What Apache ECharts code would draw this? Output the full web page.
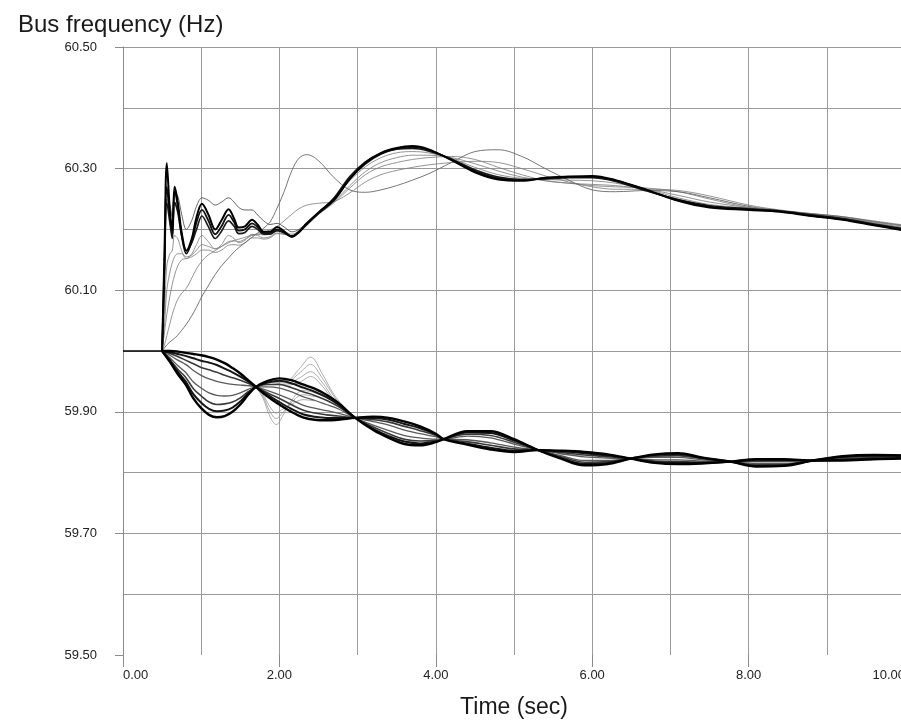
<!DOCTYPE html>
<html>
<head>
<meta charset="utf-8">
<script src="https://cdn.jsdelivr.net/npm/echarts@6/dist/echarts.min.js"></script>
<style>
html,body{margin:0;padding:0;background:#fff;}
#c{width:901px;height:724px;}
</style>
</head>
<body>
<div id="c"></div>
<script>
// ---------- DATA ----------
const xTickLabels = ['0.00','2.00','4.00','6.00','8.00','10.00'];
const yTickLabels = ['59.50','59.70','59.90','60.10','60.30','60.50'];

// before the disturbance
const preTimes = [0, 0.5];
const preValues = [60.000, 60.000];

// upper group (accelerating buses)
const upperTimes = [0.5, 0.53, 0.56, 0.6, 0.63, 0.66, 0.7, 0.75, 0.81, 0.88, 0.94, 1.01, 1.09, 1.18, 1.26, 1.35, 1.42, 1.48, 1.56, 1.65, 1.72, 1.8, 1.88, 1.97, 2.06, 2.16, 2.25, 2.35, 2.5, 2.7, 2.9, 3.1, 3.3, 3.5, 3.7, 3.9, 4.2, 4.5, 4.8, 5.1, 5.4, 5.7, 6.0, 6.3, 6.7, 7.1, 7.5, 8.0, 8.4, 8.8, 9.2, 9.6, 10.0];
const upper1 = [60.000, 60.160, 60.309, 60.230, 60.200, 60.270, 60.245, 60.195, 60.165, 60.185, 60.220, 60.242, 60.225, 60.200, 60.215, 60.233, 60.218, 60.203, 60.205, 60.216, 60.208, 60.196, 60.196, 60.204, 60.197, 60.188, 60.196, 60.210, 60.228, 60.250, 60.283, 60.310, 60.326, 60.334, 60.337, 60.332, 60.314, 60.294, 60.282, 60.280, 60.285, 60.287, 60.288, 60.281, 60.265, 60.247, 60.236, 60.232, 60.229, 60.222, 60.216, 60.207, 60.198];
const upper2 = [60.000, 60.140, 60.270, 60.220, 60.190, 60.262, 60.238, 60.190, 60.160, 60.180, 60.212, 60.232, 60.215, 60.192, 60.205, 60.224, 60.212, 60.198, 60.200, 60.210, 60.204, 60.194, 60.194, 60.200, 60.195, 60.188, 60.195, 60.208, 60.226, 60.248, 60.283, 60.308, 60.324, 60.333, 60.335, 60.331, 60.315, 60.296, 60.284, 60.281, 60.284, 60.286, 60.286, 60.280, 60.264, 60.248, 60.238, 60.233, 60.230, 60.223, 60.217, 60.208, 60.200];
const upper3 = [60.000, 60.120, 60.245, 60.210, 60.185, 60.245, 60.228, 60.190, 60.165, 60.178, 60.200, 60.222, 60.205, 60.185, 60.197, 60.214, 60.205, 60.193, 60.195, 60.205, 60.200, 60.192, 60.192, 60.198, 60.194, 60.189, 60.196, 60.209, 60.227, 60.252, 60.287, 60.311, 60.325, 60.332, 60.333, 60.329, 60.316, 60.298, 60.286, 60.282, 60.283, 60.285, 60.285, 60.279, 60.263, 60.249, 60.239, 60.234, 60.230, 60.224, 60.218, 60.209, 60.201];
const upperHigh = [60.000, 60.130, 60.250, 60.240, 60.220, 60.260, 60.255, 60.225, 60.200, 60.215, 60.238, 60.252, 60.248, 60.240, 60.245, 60.252, 60.245, 60.236, 60.232, 60.232, 60.224, 60.214, 60.208, 60.210, 60.204, 60.196, 60.200, 60.211, 60.229, 60.251, 60.284, 60.309, 60.325, 60.334, 60.336, 60.331, 60.314, 60.295, 60.283, 60.281, 60.285, 60.287, 60.287, 60.281, 60.265, 60.247, 60.237, 60.232, 60.229, 60.222, 60.216, 60.207, 60.199];
const upperLow1 = [60.000, 60.060, 60.140, 60.160, 60.165, 60.190, 60.185, 60.165, 60.152, 60.160, 60.175, 60.190, 60.180, 60.168, 60.175, 60.190, 60.185, 60.178, 60.182, 60.192, 60.190, 60.186, 60.188, 60.194, 60.192, 60.190, 60.198, 60.210, 60.225, 60.244, 60.268, 60.290, 60.303, 60.310, 60.315, 60.318, 60.320, 60.315, 60.302, 60.290, 60.280, 60.276, 60.272, 60.270, 60.268, 60.262, 60.250, 60.236, 60.230, 60.225, 60.220, 60.212, 60.205];
const upperLow2 = [60.000, 60.040, 60.100, 60.130, 60.145, 60.155, 60.160, 60.160, 60.155, 60.158, 60.166, 60.175, 60.172, 60.168, 60.172, 60.180, 60.181, 60.180, 60.184, 60.190, 60.192, 60.195, 60.199, 60.205, 60.214, 60.225, 60.234, 60.240, 60.243, 60.246, 60.260, 60.278, 60.290, 60.297, 60.302, 60.306, 60.310, 60.312, 60.310, 60.300, 60.288, 60.278, 60.270, 60.266, 60.266, 60.264, 60.255, 60.240, 60.232, 60.226, 60.221, 60.214, 60.207];
const upperSlow = [60.000, 60.005, 60.010, 60.015, 60.018, 60.021, 60.026, 60.034, 60.044, 60.058, 60.072, 60.090, 60.107, 60.126, 60.140, 60.153, 60.163, 60.170, 60.178, 60.187, 60.194, 60.202, 60.212, 60.235, 60.262, 60.297, 60.317, 60.323, 60.313, 60.285, 60.265, 60.261, 60.265, 60.272, 60.281, 60.291, 60.310, 60.328, 60.331, 60.320, 60.300, 60.281, 60.265, 60.262, 60.264, 60.262, 60.252, 60.238, 60.231, 60.226, 60.221, 60.213, 60.206];
const upperRise1 = [60.000, 60.030, 60.060, 60.090, 60.110, 60.125, 60.140, 60.150, 60.152, 60.155, 60.160, 60.166, 60.166, 60.162, 60.166, 60.174, 60.175, 60.174, 60.178, 60.186, 60.186, 60.184, 60.186, 60.193, 60.192, 60.189, 60.197, 60.210, 60.227, 60.249, 60.280, 60.303, 60.318, 60.326, 60.328, 60.326, 60.317, 60.302, 60.290, 60.284, 60.282, 60.281, 60.280, 60.276, 60.266, 60.252, 60.241, 60.235, 60.231, 60.224, 60.218, 60.210, 60.202];
const upperRise2 = [60.000, 60.010, 60.025, 60.045, 60.060, 60.072, 60.085, 60.095, 60.103, 60.120, 60.135, 60.148, 60.158, 60.165, 60.172, 60.178, 60.182, 60.184, 60.187, 60.191, 60.192, 60.191, 60.192, 60.197, 60.196, 60.192, 60.198, 60.210, 60.226, 60.246, 60.272, 60.295, 60.310, 60.318, 60.322, 60.322, 60.318, 60.308, 60.296, 60.286, 60.280, 60.276, 60.274, 60.272, 60.266, 60.256, 60.245, 60.236, 60.231, 60.225, 60.219, 60.211, 60.203];

// lower group (decelerating buses)
const lowerTimes = [0.5, 0.6, 0.7, 0.8, 0.9, 1.0, 1.1, 1.2, 1.3, 1.4, 1.5, 1.6, 1.7, 1.85, 2.0, 2.15, 2.3, 2.45, 2.6, 2.75, 2.97, 3.2, 3.4, 3.6, 3.8, 4.0, 4.1, 4.4, 4.7, 5.0, 5.31, 5.6, 5.9, 6.2, 6.49, 6.8, 7.1, 7.4, 7.77, 8.1, 8.45, 8.83, 9.2, 9.6, 10.0];
const lower1 = [60.000, 60.000, 59.999, 59.997, 59.995, 59.993, 59.990, 59.986, 59.980, 59.972, 59.963, 59.952, 59.941, 59.925, 59.912, 59.900, 59.891, 59.887, 59.886, 59.887, 59.890, 59.892, 59.890, 59.884, 59.876, 59.864, 59.855, 59.846, 59.838, 59.834, 59.837, 59.836, 59.834, 59.830, 59.823, 59.816, 59.814, 59.815, 59.818, 59.822, 59.822, 59.820, 59.820, 59.822, 59.823];
const lower2 = [60.000, 59.998, 59.995, 59.992, 59.988, 59.984, 59.981, 59.977, 59.971, 59.965, 59.958, 59.950, 59.941, 59.928, 59.916, 59.905, 59.896, 59.892, 59.890, 59.890, 59.890, 59.890, 59.887, 59.880, 59.873, 59.863, 59.855, 59.848, 59.841, 59.836, 59.837, 59.835, 59.832, 59.828, 59.823, 59.817, 59.816, 59.816, 59.818, 59.821, 59.821, 59.820, 59.821, 59.823, 59.824];
const lower3 = [60.000, 59.996, 59.991, 59.985, 59.979, 59.973, 59.969, 59.965, 59.960, 59.956, 59.952, 59.947, 59.941, 59.931, 59.922, 59.912, 59.903, 59.898, 59.895, 59.893, 59.890, 59.887, 59.883, 59.876, 59.869, 59.861, 59.855, 59.851, 59.845, 59.839, 59.837, 59.833, 59.829, 59.826, 59.823, 59.819, 59.818, 59.817, 59.818, 59.819, 59.820, 59.820, 59.822, 59.824, 59.824];
const lower4 = [60.000, 59.993, 59.985, 59.978, 59.968, 59.960, 59.954, 59.950, 59.947, 59.945, 59.944, 59.943, 59.941, 59.935, 59.928, 59.920, 59.911, 59.906, 59.902, 59.898, 59.890, 59.884, 59.878, 59.870, 59.864, 59.859, 59.855, 59.854, 59.849, 59.842, 59.837, 59.831, 59.826, 59.824, 59.823, 59.821, 59.821, 59.819, 59.818, 59.818, 59.818, 59.820, 59.823, 59.825, 59.825];
const lower5 = [60.000, 59.989, 59.976, 59.965, 59.949, 59.939, 59.931, 59.927, 59.926, 59.927, 59.931, 59.937, 59.941, 59.941, 59.939, 59.933, 59.925, 59.919, 59.912, 59.905, 59.890, 59.878, 59.869, 59.861, 59.857, 59.855, 59.855, 59.860, 59.857, 59.847, 59.837, 59.828, 59.820, 59.820, 59.823, 59.825, 59.825, 59.821, 59.818, 59.815, 59.815, 59.820, 59.824, 59.826, 59.826];
const lower6 = [60.000, 59.986, 59.970, 59.957, 59.938, 59.926, 59.916, 59.912, 59.913, 59.916, 59.923, 59.933, 59.941, 59.945, 59.945, 59.940, 59.933, 59.927, 59.919, 59.909, 59.890, 59.875, 59.864, 59.855, 59.852, 59.853, 59.855, 59.863, 59.861, 59.850, 59.837, 59.826, 59.817, 59.818, 59.823, 59.827, 59.828, 59.823, 59.818, 59.813, 59.813, 59.820, 59.825, 59.827, 59.827];
const lower7 = [60.000, 59.984, 59.966, 59.950, 59.929, 59.915, 59.905, 59.901, 59.902, 59.907, 59.917, 59.930, 59.941, 59.948, 59.951, 59.947, 59.940, 59.933, 59.924, 59.912, 59.890, 59.872, 59.860, 59.851, 59.848, 59.851, 59.855, 59.866, 59.865, 59.853, 59.837, 59.824, 59.814, 59.816, 59.823, 59.829, 59.830, 59.824, 59.818, 59.811, 59.812, 59.820, 59.826, 59.828, 59.828];
const lower8 = [60.000, 59.982, 59.962, 59.945, 59.922, 59.906, 59.895, 59.891, 59.893, 59.900, 59.912, 59.928, 59.941, 59.951, 59.955, 59.952, 59.945, 59.938, 59.928, 59.915, 59.890, 59.870, 59.857, 59.847, 59.845, 59.850, 59.855, 59.868, 59.868, 59.855, 59.837, 59.823, 59.812, 59.814, 59.823, 59.830, 59.832, 59.825, 59.818, 59.810, 59.811, 59.820, 59.827, 59.829, 59.828];

// thin excursions in the lower group
const spikeTimes = [1.7, 1.9, 2.1, 2.25, 2.4, 2.55, 2.7, 2.85, 2.97];
const spikeUp1 = [59.941, 59.952, 59.952, 59.970, 59.990, 59.962, 59.928, 59.905, 59.890];
const spikeUp2 = [59.941, 59.950, 59.950, 59.963, 59.978, 59.955, 59.925, 59.903, 59.890];
const spikeUp3 = [59.941, 59.949, 59.947, 59.955, 59.966, 59.948, 59.920, 59.902, 59.890];
const spikeUp4 = [59.941, 59.948, 59.944, 59.948, 59.958, 59.942, 59.917, 59.900, 59.890];
const dipTimes = [1.5, 1.65, 1.78, 1.88, 1.96, 2.05, 2.15, 2.3, 2.45];
const dip1 = [59.963, 59.947, 59.925, 59.892, 59.879, 59.895, 59.918, 59.935, 59.932];
const dip2 = [59.960, 59.946, 59.928, 59.900, 59.889, 59.900, 59.915, 59.928, 59.925];
const dip3 = [59.958, 59.945, 59.930, 59.908, 59.898, 59.905, 59.912, 59.920, 59.918];

// ---------- CHART ----------
const FONT = '"Liberation Sans", Arial, sans-serif';
const GRID = '#9a9a9a';

function line(times, values, color, width, z) {
  return {
    type: 'line',
    data: times.map((t, i) => [t, values[i]]),
    symbol: 'none',
    showSymbol: false,
    smooth: 0.35,
    silent: true,
    z: z,
    lineStyle: { color: color, width: width },
    emphasis: { disabled: true }
  };
}

const series = [
  line(spikeTimes, spikeUp1, '#8a8a8a', 0.7, 2),
  line(spikeTimes, spikeUp2, '#8a8a8a', 0.7, 2),
  line(spikeTimes, spikeUp3, '#8a8a8a', 0.7, 2),
  line(spikeTimes, spikeUp4, '#8a8a8a', 0.7, 2),
  line(dipTimes, dip1, '#8a8a8a', 0.7, 2),
  line(dipTimes, dip2, '#8a8a8a', 0.7, 2),
  line(dipTimes, dip3, '#8a8a8a', 0.7, 2),
  line(lowerTimes, lower4, '#5a5a5a', 1.3, 3),
  line(lowerTimes, lower5, '#5a5a5a', 1.3, 3),
  line(lowerTimes, lower3, '#3a3a3a', 1.6, 3),
  line(lowerTimes, lower6, '#3a3a3a', 1.6, 3),
  line(lowerTimes, lower2, '#151515', 2.0, 4),
  line(lowerTimes, lower7, '#151515', 2.0, 4),
  line(lowerTimes, lower1, '#000', 2.4, 5),
  line(lowerTimes, lower8, '#000', 2.4, 5),
  line(upperTimes, upperLow1, '#7a7a7a', 0.8, 2),
  line(upperTimes, upperLow2, '#7a7a7a', 0.8, 2),
  line(upperTimes, upperRise1, '#7a7a7a', 0.8, 2),
  line(upperTimes, upperRise2, '#7a7a7a', 0.8, 2),
  line(upperTimes, upperSlow, '#666', 0.9, 2),
  line(upperTimes, upperHigh, '#555', 0.9, 3),
  line(upperTimes, upper3, '#1a1a1a', 1.6, 4),
  line(upperTimes, upper2, '#111', 1.8, 4),
  line(upperTimes, upper1, '#000', 2.0, 5),
  line(preTimes, preValues, '#000', 1.5, 5)
];

const chart = echarts.init(document.getElementById('c'), null, { renderer: 'canvas' });
chart.setOption({
  animation: false,
  backgroundColor: '#ffffff',
  title: {
    text: 'Bus frequency (Hz)',
    left: 13, top: 8,
    textStyle: { fontFamily: FONT, fontSize: 24, fontWeight: 'normal', color: '#1a1a1a' }
  },
  grid: { left: 123, top: 47, width: 782, height: 608, containLabel: false, outerBoundsMode: 'none' },
  xAxis: {
    type: 'value', min: 0, max: 10, interval: 2,
    name: 'Time (sec)', nameLocation: 'middle', nameGap: 41,
    nameTextStyle: { fontFamily: FONT, fontSize: 23, color: '#1a1a1a' },
    axisLine: { show: false },
    axisTick: { show: true, length: 12, lineStyle: { color: '#8a8a8a' } },
    axisLabel: {
      fontFamily: FONT, fontSize: 13, color: '#222', margin: 14,
      alignMinLabel: 'left', alignMaxLabel: 'right',
      formatter: v => xTickLabels[Math.round(v / 2)]
    },
    splitLine: { show: true, lineStyle: { color: GRID, width: 1 } },
    minorTick: { show: false, splitNumber: 2 },
    minorSplitLine: { show: true, lineStyle: { color: GRID, width: 1 } }
  },
  yAxis: {
    type: 'value', min: 59.5, max: 60.5, interval: 0.2,
    axisLine: { show: true, lineStyle: { color: '#8a8a8a' } },
    axisTick: { show: true, length: 8, lineStyle: { color: '#8a8a8a' } },
    axisLabel: {
      fontFamily: FONT, fontSize: 13, color: '#222', margin: 26,
      formatter: v => yTickLabels[Math.round((v - 59.5) / 0.2)]
    },
    splitLine: { show: true, showMinLine: false, lineStyle: { color: GRID, width: 1 } },
    minorTick: { show: false, splitNumber: 2 },
    minorSplitLine: { show: true, lineStyle: { color: GRID, width: 1 } }
  },
  series: series
});
</script>
</body>
</html>
